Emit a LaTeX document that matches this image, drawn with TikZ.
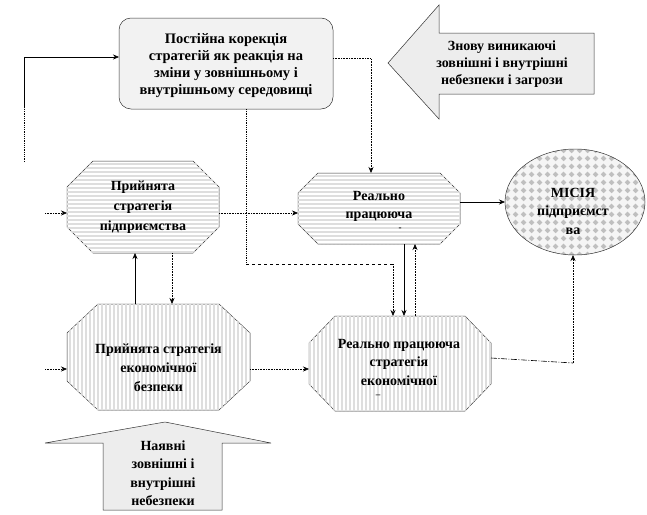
\documentclass[tikz,border=0pt]{standalone}
\usepackage{fontspec}
\setmainfont{Liberation Serif}
\usetikzlibrary{arrows.meta,patterns,backgrounds,shapes.geometric}
\pgfdeclarepatternformonly{mydiam}{\pgfpointorigin}{\pgfqpoint{8pt}{8pt}}{\pgfqpoint{8pt}{8pt}}{%
 \pgfpathmoveto{\pgfqpoint{4pt}{0.9pt}}\pgfpathlineto{\pgfqpoint{7.1pt}{4pt}}\pgfpathlineto{\pgfqpoint{4pt}{7.1pt}}\pgfpathlineto{\pgfqpoint{0.9pt}{4pt}}\pgfpathclose\pgfusepath{fill}}
\pgfdeclarepatternformonly{myh}{\pgfqpoint{-1pt}{-1pt}}{\pgfqpoint{5pt}{5pt}}{\pgfqpoint{4pt}{4pt}}{%
 \pgfsetlinewidth{1.2pt}\pgfpathmoveto{\pgfqpoint{-1pt}{2pt}}\pgfpathlineto{\pgfqpoint{5pt}{2pt}}\pgfusepath{stroke}}
\pgfdeclarepatternformonly{myv}{\pgfqpoint{-1pt}{-1pt}}{\pgfqpoint{5pt}{5pt}}{\pgfqpoint{4pt}{4pt}}{%
 \pgfsetlinewidth{1.2pt}\pgfpathmoveto{\pgfqpoint{2pt}{-1pt}}\pgfpathlineto{\pgfqpoint{2pt}{5pt}}\pgfusepath{stroke}}
\newcommand\octo[4]{%
 \draw[octline,#4] ([xshift=#2]#1.north west) -- ([xshift=-#2]#1.north east) -- ([yshift=-#3]#1.north east) -- ([yshift=#3]#1.south east) -- ([xshift=-#2]#1.south east) -- ([xshift=#2]#1.south west) -- ([yshift=#3]#1.south west) -- ([yshift=-#3]#1.north west) -- cycle;}
\tikzset{
 txt/.style={font=\bfseries\fontsize{14}{18}\selectfont, align=center, inner sep=0pt},
 frame/.style={inner sep=0pt, outer sep=0pt},
 octline/.style={draw=black!80, line width=0.5pt},
 hfill/.style={fill=white, postaction={pattern=myh, pattern color=black!13}},
 vfill/.style={fill=white, postaction={pattern=myv, pattern color=black!13}},
 arr/.style={-{Stealth[length=6pt,width=5pt]}, line width=0.6pt},
 dotl/.style={densely dotted, line width=0.8pt},
 bigarrow/.style={draw=black!80, line width=0.5pt, fill=black!7},
}
\begin{document}
\begin{tikzpicture}[x=1pt,y=-1pt]
\useasboundingbox (0,0) rectangle (647,514);
% top rounded box
\node[frame, draw=black!80, line width=0.5pt, rounded corners=12pt, fill=black!5, minimum width=214pt, minimum height=91pt] (top) at (226,63.5) {};
\node[txt, font=\bfseries\fontsize{14.5}{17}\selectfont] (toptxt) at (226,66) {Постійна корекція\\стратегій як реакція на\\зміни у зовнішньому і\\внутрішньому середовищі};
% left big arrow
\draw[bigarrow] (388,63) -- (439,5) -- (439,33) -- (594,33) -- (594,94) -- (439,94) -- (439,119) -- cycle;
\node[txt, font=\bfseries\fontsize{14}{17}\selectfont] (znovu) at (502,64) {Знову виникаючі\\зовнішні і внутрішні\\небезпеки і загрози};
% bottom big arrow
\draw[bigarrow] (165,422) -- (271,443) -- (222,443) -- (222,510) -- (103,510) -- (103,443) -- (45,443) -- cycle;
\node[txt, font=\bfseries\fontsize{14}{18.5}\selectfont] (nayavni) at (163,473) {Наявні\\зовнішні і\\внутрішні\\небезпеки};
% octagons
\node[frame, minimum width=152pt, minimum height=92pt] (o1) at (143,207) {};
\octo{o1}{26pt}{26pt}{hfill}
\node[txt, font=\bfseries\fontsize{14}{20}\selectfont] (o1t) at (143,207) {Прийнята\\стратегія\\підприємства};
\node[frame, minimum width=162pt, minimum height=71pt] (o2) at (379,208.5) {};
\octo{o2}{20pt}{20pt}{hfill}
\node[txt] (o2t) at (379,206) {Реально\\працююча};
\node[txt, font=\bfseries\fontsize{9}{9}\selectfont] (o2d) at (400,229) {-};
\node[frame, minimum width=183pt, minimum height=106pt] (o3) at (158.5,357) {};
\octo{o3}{31pt}{29pt}{vfill}
\node[txt, font=\bfseries\fontsize{14}{19}\selectfont] (o3t) at (158.5,368) {Прийнята стратегія\\економічної\\безпеки};
\node[frame, minimum width=182pt, minimum height=95pt] (o4) at (400,363.5) {};
\octo{o4}{26pt}{27pt}{vfill}
\node[txt, font=\bfseries\fontsize{14}{18.5}\selectfont] (o4t) at (399,362) {Реально працююча\\стратегія\\економічної};
\node[txt, font=\bfseries\fontsize{9}{9}\selectfont] (o4d) at (378,396) {–};
% mission ellipse
\node[frame, ellipse, minimum width=140pt, minimum height=106pt] (mis) at (575,202) {};
\fill[black!4] (mis.center) ellipse [x radius=70, y radius=53];
\draw[line width=0.5pt, draw=black!80, pattern=mydiam, pattern color=black!25] (mis.center) ellipse [x radius=70, y radius=53];
\node[txt, font=\bfseries\fontsize{14}{18.5}\selectfont] (mist) at (573,211) {МІСІЯ\\підприємст\\ва};
% connectors
\coordinate (l0) at (24,162);
\coordinate (l1) at (24,108);
\draw[dotl] (l0) -- (l1);
\draw[arr] (l1) |- ([yshift=6.5pt]top.west);
\draw[dotl, arr, densely dotted] ([yshift=5pt]top.east) -| ([xshift=-8pt]o2.north);
\coordinate (c1) at ([xshift=20pt]top.south |- 0,264);
\coordinate (c2) at ([xshift=-7pt]o4.north |- 0,264);
\draw[dotl] ([xshift=20pt]top.south) -- (c1);
\draw[line width=0.6pt, dash pattern=on 3pt off 3pt] (c1) -- (c2);
\draw[dotl, arr, densely dotted] (c2) -- ([xshift=-7pt]o4.north);
\coordinate (in1) at (45,213);
\coordinate (in3) at (45,369);
\draw[arr, densely dotted] (in1) -- (o1.west |- in1);
\draw[arr, densely dotted] (in3) -- (o3.west |- in3);
\draw[arr, densely dotted] ([yshift=-6pt]o1.east) -- (o2.west |- 0,213);
\draw[arr] ([yshift=6.5pt]o2.east) -- (mis.west |- 0,202);
\draw[arr] ([xshift=25pt]o2.south) -- ([xshift=4pt]o4.north);
\draw[arr, densely dotted] ([xshift=15pt]o4.north) -- ([xshift=36pt]o2.south);
\draw[arr] (o3.north -| 135,0) -- (o1.south -| 135,0);
\draw[arr, densely dotted] (o1.south -| 172,0) -- (o3.north -| 172,0);
\draw[arr, densely dotted] ([yshift=-12pt]o3.east) -- (o4.west |- 0,369);
\coordinate (c3) at (573,363);
\draw[line width=0.6pt, dash pattern=on 6pt off 1.5pt on 1pt off 1.5pt] ([yshift=5.5pt]o4.east) -- (c3);
\draw[arr, densely dotted] (c3) -- (mis.south -| c3);
\end{tikzpicture}
\end{document}
